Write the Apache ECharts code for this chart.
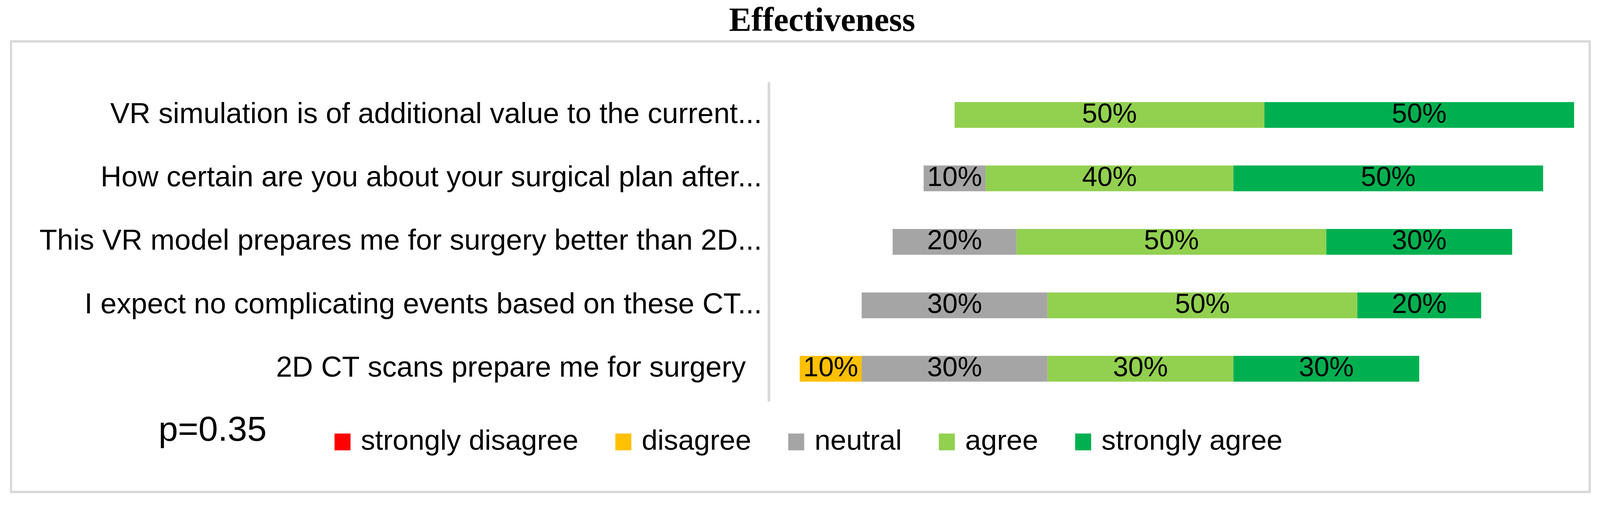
<!DOCTYPE html>
<html>
<head>
<meta charset="utf-8">
<script src="https://cdn.jsdelivr.net/npm/echarts@6/dist/echarts.min.js"></script>
<style>
html,body{margin:0;padding:0;background:#fff;overflow:hidden;}
#chart{position:absolute;left:0;top:0;}
</style>
</head>
<body>
<div id="chart"></div>
<script>
// ---- data ----
const categories = [
  'VR simulation is of additional value to the current...',
  'How certain are you about your surgical plan after...',
  'This VR model prepares me for surgery better than 2D...',
  'I expect no complicating events based on these CT...',
  '2D CT scans prepare me for surgery  '
];
const seriesNames = ['strongly disagree', 'disagree', 'neutral', 'agree', 'strongly agree'];
const stronglyDisagree = [0, 0, 0, 0, 0];
const disagree = [0, 0, 0, 0, 10];
const neutral = [0, 10, 20, 30, 30];
const agree = [50, 40, 50, 50, 30];
const stronglyAgree = [50, 50, 30, 20, 30];
const colors = ['#ff0000', '#ffc000', '#a5a5a5', '#92d050', '#00b050'];
const pValueText = 'p=0.35';
const titleText = 'Effectiveness';
const leftReach = 30; // axis begins this many percent left of the neutral midpoint

// spacer so that each bar is centred on the middle of "neutral"
const spacer = categories.map((c, i) => leftReach - (stronglyDisagree[i] + disagree[i] + neutral[i] / 2));
const valueSets = [stronglyDisagree, disagree, neutral, agree, stronglyAgree];

// ---- layout (designed for 4200 x 1295, scaled to the actual viewport) ----
const W = window.innerWidth || document.documentElement.clientWidth || 4200;
const H = window.innerHeight || document.documentElement.clientHeight || 1295;
const sx = W / 4200, sy = H / 1295, sf = Math.min(sx, sy);
const X = v => v * sx, Y = v => v * sy, F = v => v * sf;
const el = document.getElementById('chart');
el.style.width = W + 'px';
el.style.height = H + 'px';

const FONT = '"Liberation Sans", Arial, sans-serif';

const series = [{
  name: 'spacer',
  type: 'bar',
  stack: 'total',
  data: spacer,
  barWidth: Y(66),
  silent: true,
  itemStyle: { color: 'rgba(0,0,0,0)' },
  label: { show: false },
  emphasis: { disabled: true }
}];
valueSets.forEach((vals, k) => {
  series.push({
    name: seriesNames[k],
    type: 'bar',
    stack: 'total',
    data: vals,
    barWidth: Y(66),
    itemStyle: { color: colors[k] },
    label: {
      show: true,
      position: 'inside',
      color: '#000',
      fontFamily: FONT,
      fontSize: F(72),
      formatter: p => (p.value > 0 ? p.value + '%' : '')
    },
    emphasis: { disabled: true }
  });
});

const chart = echarts.init(el, null, { renderer: 'canvas', width: W, height: H });
chart.setOption({
  animation: false,
  backgroundColor: '#fff',
  color: colors,
  grid: { left: X(2018), top: Y(213), width: X(2114), height: Y(812), containLabel: false },
  xAxis: { type: 'value', min: 0, max: 130, show: false },
  yAxis: {
    type: 'category',
    data: categories,
    inverse: true,
    axisLine: { show: true, lineStyle: { color: '#d9d9d9', width: X(7) } },
    axisTick: { show: false },
    splitLine: { show: false },
    axisLabel: { color: '#000', fontFamily: FONT, fontSize: F(76), margin: X(18) }
  },
  legend: {
    data: seriesNames,
    left: X(873),
    top: Y(1086),
    orient: 'horizontal',
    icon: 'rect',
    itemWidth: F(42),
    itemHeight: F(44),
    itemGap: X(97),
    selectedMode: false,
    textStyle: { color: '#000', fontFamily: FONT, fontSize: F(75), lineHeight: Y(80), padding: [0, 0, 0, X(22)] }
  },
  graphic: [
    {
      type: 'rect',
      shape: { x: X(29), y: Y(106), width: X(4144), height: Y(1153) },
      style: { fill: null, stroke: '#d9d9d9', lineWidth: F(6) },
      silent: true,
      z: -1
    },
    {
      type: 'text',
      x: X(2158),
      y: Y(57),
      style: {
        text: titleText,
        fill: '#000',
        font: 'bold ' + F(88) + 'px "Liberation Serif", "Times New Roman", serif',
        textAlign: 'center',
        textVerticalAlign: 'middle'
      }
    },
    {
      type: 'text',
      x: X(416),
      y: Y(1103),
      style: {
        text: pValueText,
        fill: '#000',
        font: F(92) + 'px "Liberation Sans", Arial, sans-serif',
        textAlign: 'left',
        textVerticalAlign: 'middle'
      }
    }
  ],
  series: series
});
</script>
</body>
</html>
